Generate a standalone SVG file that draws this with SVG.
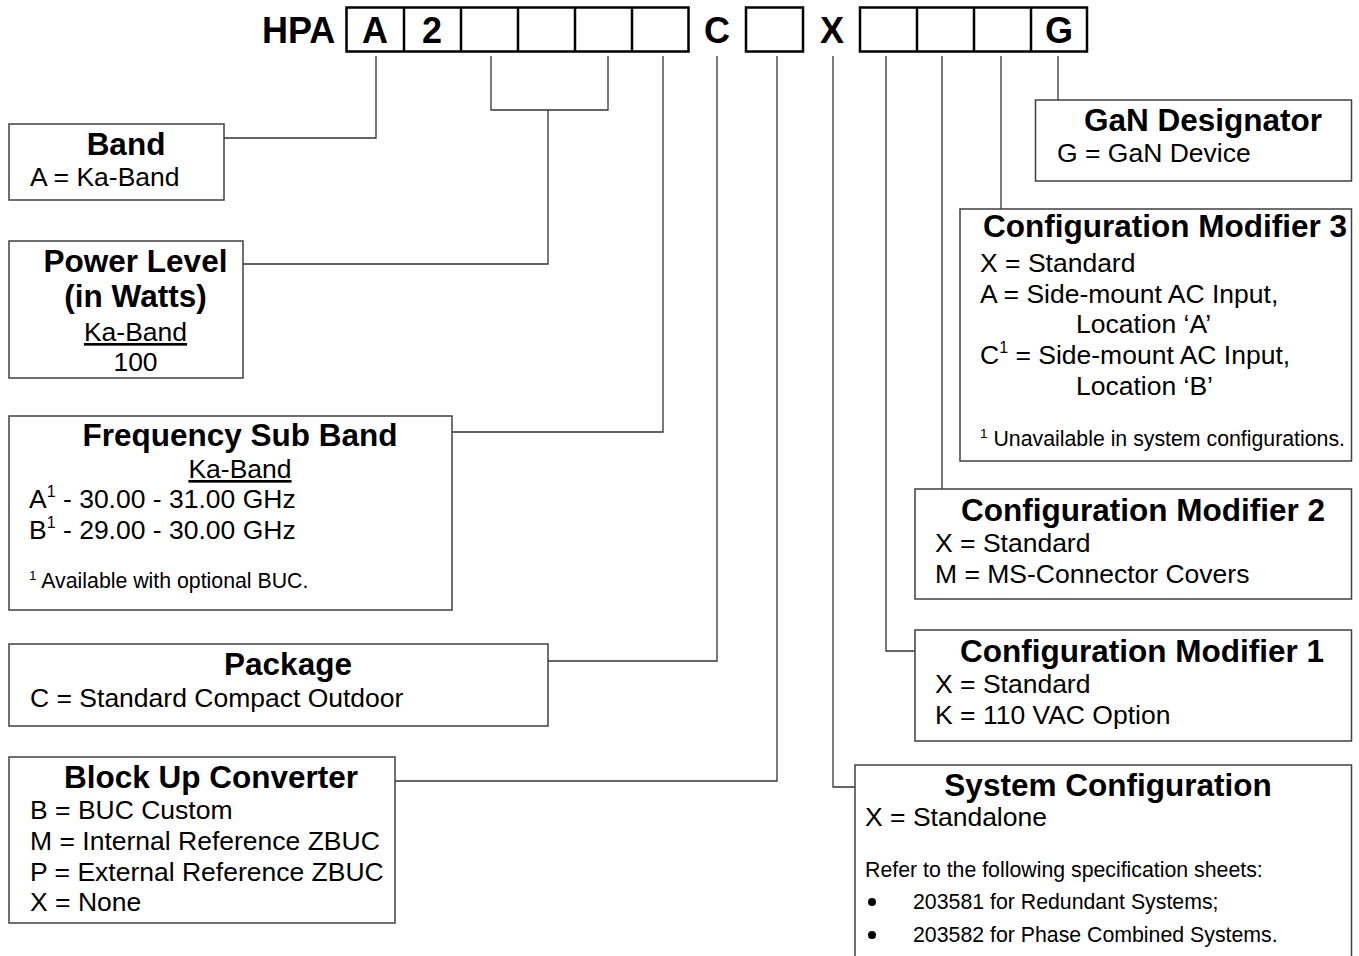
<svg xmlns="http://www.w3.org/2000/svg" width="1359" height="956" viewBox="0 0 1359 956">
<style>
text{font-family:"Liberation Sans",Arial,sans-serif;fill:#000}
.code{font-size:36px;font-weight:bold}
.t{font-size:31.5px;font-weight:bold;text-anchor:middle}
.b{font-size:26.5px}
.c{text-anchor:middle}
.s{font-size:21.3px}
.u{text-decoration:underline}
.box{fill:#fff;stroke:#404040;stroke-width:1.5}
.cell{fill:none;stroke:#000;stroke-width:2.5}
.con{fill:none;stroke:#333;stroke-width:1.3}
</style>
<rect width="1359" height="956" fill="#fff"/>
<g id="code">
<text class="code" x="262" y="43">HPA</text>
<rect class="cell" x="346.5" y="7.5" width="342" height="44"/>
<path class="cell" d="M404,7.5V51.5M461,7.5V51.5M518,7.5V51.5M575,7.5V51.5M632,7.5V51.5"/>
<text class="code" x="375" y="43" text-anchor="middle">A</text>
<text class="code" x="432" y="43" text-anchor="middle">2</text>
<text class="code" x="717" y="43" text-anchor="middle">C</text>
<rect class="cell" x="746" y="7.5" width="57" height="44"/>
<text class="code" x="832" y="43" text-anchor="middle">X</text>
<rect class="cell" x="860" y="7.5" width="227" height="44"/>
<path class="cell" d="M917,7.5V51.5M974,7.5V51.5M1031,7.5V51.5"/>
<text class="code" x="1059" y="43" text-anchor="middle">G</text>
</g>
<g id="connectors">
<path class="con" d="M376,56V138H224"/>
<path class="con" d="M491,56V110H608V56M548,110V264H243"/>
<path class="con" d="M663,56V432H452"/>
<path class="con" d="M717,56V661H548"/>
<path class="con" d="M777,56V781H395"/>
<path class="con" d="M833,56V787H855"/>
<path class="con" d="M886,56V651H915"/>
<path class="con" d="M942,56V489"/>
<path class="con" d="M1001,56V209"/>
<path class="con" d="M1058,56V100"/>
</g>
<g id="band">
<rect class="box" x="9" y="124" width="215" height="76"/>
<text class="t" x="126" y="155">Band</text>
<text class="b" x="30" y="186">A = Ka-Band</text>
</g>
<g id="power">
<rect class="box" x="9" y="241" width="234" height="137"/>
<text class="t" x="135.5" y="272">Power Level</text>
<text class="t" x="135.5" y="307">(in Watts)</text>
<text class="b c u" x="135.5" y="341">Ka-Band</text>
<text class="b c" x="135.5" y="371">100</text>
</g>
<g id="freq">
<rect class="box" x="9" y="416" width="443" height="194"/>
<text class="t" x="240" y="446">Frequency Sub Band</text>
<text class="b c u" x="240" y="478">Ka-Band</text>
<text class="b" x="29" y="508">A<tspan font-size="16" dy="-11">1</tspan><tspan dy="11"> - 30.00 - 31.00 GHz</tspan></text>
<text class="b" x="29" y="539">B<tspan font-size="16" dy="-11">1</tspan><tspan dy="11"> - 29.00 - 30.00 GHz</tspan></text>
<text class="s" x="29" y="588"><tspan font-size="13.5" dy="-8">1</tspan><tspan dy="8"> Available with optional BUC.</tspan></text>
</g>
<g id="package">
<rect class="box" x="9" y="644" width="539" height="82"/>
<text class="t" x="288" y="675">Package</text>
<text class="b" x="30" y="707">C = Standard Compact Outdoor</text>
</g>
<g id="buc">
<rect class="box" x="9" y="757" width="386" height="166"/>
<text class="t" x="211" y="788">Block Up Converter</text>
<text class="b" x="30" y="819">B = BUC Custom</text>
<text class="b" x="30" y="850">M = Internal Reference ZBUC</text>
<text class="b" x="30" y="881">P = External Reference ZBUC</text>
<text class="b" x="30" y="911">X = None</text>
</g>
<g id="gan">
<rect class="box" x="1035.5" y="100" width="316" height="81"/>
<text class="t" x="1203" y="131">GaN Designator</text>
<text class="b" x="1057" y="162">G = GaN Device</text>
</g>
<g id="mod3">
<rect class="box" x="960" y="209" width="391.5" height="252"/>
<text class="t" x="1165" y="237">Configuration Modifier 3</text>
<text class="b" x="980" y="272">X = Standard</text>
<text class="b" x="980" y="303">A = Side-mount AC Input,</text>
<text class="b" x="1076" y="333">Location ‘A’</text>
<text class="b" x="980" y="364">C<tspan font-size="16" dy="-11">1</tspan><tspan dy="11"> = Side-mount AC Input,</tspan></text>
<text class="b" x="1076" y="395">Location ‘B’</text>
<text class="s" x="980" y="446"><tspan font-size="13.5" dy="-8">1</tspan><tspan dy="8"> Unavailable in system configurations.</tspan></text>
</g>
<g id="mod2">
<rect class="box" x="915" y="489" width="436.5" height="110"/>
<text class="t" x="1143" y="521">Configuration Modifier 2</text>
<text class="b" x="935" y="552">X = Standard</text>
<text class="b" x="935" y="583">M = MS-Connector Covers</text>
</g>
<g id="mod1">
<rect class="box" x="915" y="630" width="436.5" height="111"/>
<text class="t" x="1142" y="662">Configuration Modifier 1</text>
<text class="b" x="935" y="693">X = Standard</text>
<text class="b" x="935" y="724">K = 110 VAC Option</text>
</g>
<g id="sysconf">
<rect class="box" x="855" y="765" width="496.5" height="240"/>
<text class="t" x="1108" y="796">System Configuration</text>
<text class="b" x="865" y="826">X = Standalone</text>
<text class="s" x="865" y="877">Refer to the following specification sheets:</text>
<circle cx="872" cy="902" r="4"/>
<text class="s" x="913" y="909">203581 for Redundant Systems;</text>
<circle cx="872" cy="935" r="4"/>
<text class="s" x="913" y="942">203582 for Phase Combined Systems.</text>
</g>
</svg>
